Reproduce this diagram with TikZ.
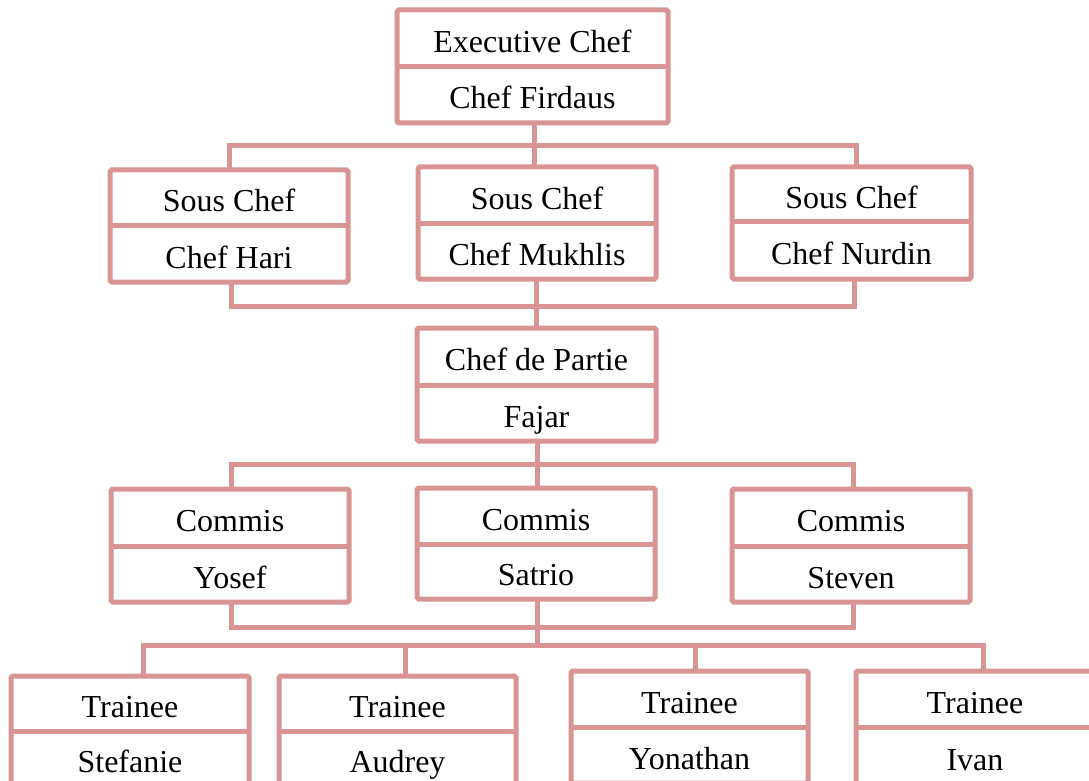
\documentclass[tikz,border=0pt]{standalone}
\usepackage{fontspec}
\setmainfont{Liberation Serif}
\definecolor{rosy}{RGB}{217,149,148}
\tikzset{
  orgbox/.style={draw=rosy, line width=3.75pt, rounded corners=1.2pt, fill=white, inner sep=0pt, outer sep=0pt, rectangle},
  divline/.style={draw=rosy, line width=3.75pt},
  conn/.style={draw=rosy, line width=3.75pt, line join=miter},
  lbl/.style={anchor=base, inner sep=0pt, font=\fontsize{24pt}{28pt}\selectfont, text=black},
}
% name, left, top, right, divider, bottom, text1, text2  (all in px)
\newcommand\OrgBox[8]{%
  \pgfmathsetmacro\bw{(#4-#2)*0.75}%
  \pgfmathsetmacro\bh{(#6-#3)*0.75}%
  \node[orgbox, minimum width=\bw pt, minimum height=\bh pt] (#1) at ({(#2+#4)/2},{(#3+#6)/2}) {};
  \draw[divline] (#1.west |- 0,#5) -- (#1.east |- 0,#5);
  \node[lbl] (#1-a) at ({(#2+#4)/2},{(#3+#5)/2+14}) {#7};
  \node[lbl] (#1-b) at ({(#2+#4)/2},{(#5+#6)/2+14}) {#8};
}
\begin{document}
\begin{tikzpicture}[x=0.75pt,y=-0.75pt]
\clip (0,0) rectangle (1089,781);
\fill[white] (0,0) rectangle (1089,781);

% junction coordinates
\coordinate (j1) at (534,146);
\coordinate (j2) at (536,306);
\coordinate (j3) at (537,464);
\coordinate (j4) at (537,627);
\coordinate (j5) at (537,645);
\coordinate (j6) at (405,645);
\coordinate (j7) at (695,645);

\OrgBox{exec}{397}{10}{668}{67}{123}{Executive Chef}{Chef Firdaus}
\OrgBox{hari}{110}{170}{348}{226}{282}{Sous Chef}{Chef Hari}
\OrgBox{mukh}{418}{167}{656}{224}{279}{Sous Chef}{Chef Mukhlis}
\OrgBox{nurd}{732}{167}{971}{222}{279}{Sous Chef}{Chef Nurdin}
\OrgBox{part}{417}{328}{656}{385}{441}{Chef de Partie}{Fajar}
\OrgBox{yosef}{111}{489}{349}{546}{602}{Commis}{Yosef}
\OrgBox{satrio}{417}{488}{655}{544}{599}{Commis}{Satrio}
\OrgBox{steven}{732}{489}{970}{546}{602}{Commis}{Steven}
\OrgBox{stef}{11}{676}{249}{731}{786}{Trainee}{Stefanie}
\OrgBox{aud}{279}{676}{516}{731}{786}{Trainee}{Audrey}
\OrgBox{yon}{571}{671}{808}{727}{783}{Trainee}{Yonathan}
\OrgBox{ivan}{856}{671}{1094}{727}{785}{Trainee}{Ivan}

% level 1
\draw[conn] (exec.south -| j1) -- (j1);
\draw[conn] (hari.north -| 229,0) |- (j1) -| (nurd.north -| 856,0);
\draw[conn] (j1) -- (mukh.north -| j1);
% level 2
\draw[conn] (hari.south -| 231,0) |- (j2) -| (nurd.south -| 854,0);
\draw[conn] (mukh.south -| j2) -- (part.north -| j2);
% level 3
\draw[conn] (part.south -| j3) -- (j3);
\draw[conn] (yosef.north -| 231,0) |- (j3) -| (steven.north -| 853,0);
\draw[conn] (j3) -- (satrio.north -| j3);
% level 4
\draw[conn] (yosef.south -| 231,0) |- (j4) -| (steven.south -| 853,0);
\draw[conn] (satrio.south -| j5) -- (j5);
\draw[conn] (stef.north -| 143,0) |- (j5) -| (ivan.north -| 983,0);
\draw[conn] (j6) -- (aud.north -| j6);
\draw[conn] (j7) -- (yon.north -| j7);
\end{tikzpicture}
\end{document}
